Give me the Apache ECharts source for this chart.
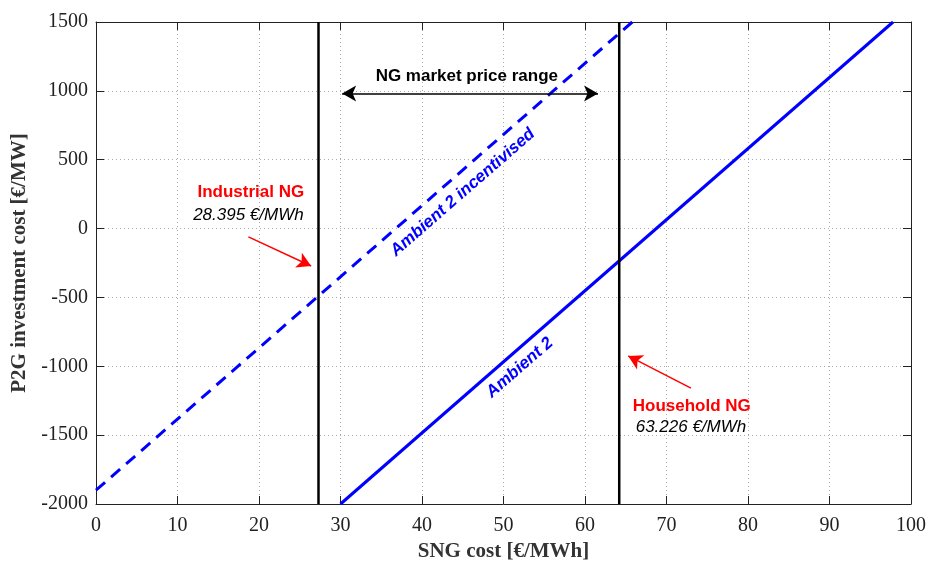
<!DOCTYPE html>
<html>
<head>
<meta charset="utf-8">
<script src="https://cdn.jsdelivr.net/npm/echarts@6/dist/echarts.min.js"></script>
<style>
  html, body { margin: 0; padding: 0; background: #fff; }
  #chart { width: 929px; height: 565px; }
</style>
</head>
<body>
<div id="chart"></div>
<script>
// line end points [SNG cost, P2G cost]
const ambient2 = [[30, -2000], [97.8, 1500]];
const ambient2Incentivised = [[0, -1900], [65.8, 1500]];
const industrialLine = [[27.3, -2000], [27.3, 1500]];
const householdLine = [[64.2, -2000], [64.2, 1500]];
const rangeArrow = [[30.2, 980], [61.6, 980]];
const industrialArrow = [[18.7, -60], [26.4, -272]];
const householdArrow = [[73.0, -1158], [65.3, -925]];

// text annotations [x, y, text]
const redLabels = [[19.0, 262, "Industrial NG"], [73.1, -1288, "Household NG"]];
const priceLabels = [[18.7, 99, "28.395 €/MWh"], [73.0, -1440, "63.226 €/MWh"]];
const rangeLabel = [[45.5, 1108, "NG market price range"]];
const lineLabels = [[45.0, 262, "Ambient 2 incentivised"], [52.0, -1010, "Ambient 2"]];

const serif = "Liberation Serif";
const sans = "Liberation Sans";

const chart = echarts.init(document.getElementById("chart"));

function arrowSeries(pts, color, both) {
  return {
    type: "line",
    data: [],
    silent: true,
    markLine: {
      silent: true,
      animation: false,
      symbol: both ? ["arrow", "arrow"] : ["none", "arrow"],
      symbolSize: [12, 14],
      label: { show: false },
      lineStyle: { color: color, width: 1.5, type: "solid" },
      data: [[{ coord: pts[0] }, { coord: pts[1] }]]
    }
  };
}

function textSeries(items, style) {
  return {
    type: "scatter",
    data: items,
    symbolSize: 0,
    silent: true,
    itemStyle: { opacity: 1 },
    label: Object.assign({
      show: true,
      position: "inside",
      textBorderWidth: 0,
      formatter: (p) => p.data[2]
    }, style)
  };
}

const frameAxis = {
  axisLine: { show: true, onZero: false, lineStyle: { color: "#222", width: 1 } },
  axisTick: { show: true, inside: true, length: 8, lineStyle: { color: "#222" } }
};

const option = {
  animation: false,
  grid: { left: 96, right: 18, top: 22, bottom: 61, containLabel: false, outerBoundsMode: "none" },
  xAxis: [
    Object.assign({
      type: "value", min: 0, max: 100, interval: 10,
      name: "SNG cost [€/MWh]", nameLocation: "middle", nameGap: 36,
      nameTextStyle: { fontFamily: serif, fontWeight: "bold", fontSize: 21, color: "#333" },
      axisLabel: { fontFamily: serif, fontSize: 20, color: "#222", margin: 12 },
      splitLine: { show: true, lineStyle: { color: "#aaa", type: [1, 3], width: 1 } }
    }, frameAxis),
    Object.assign({
      type: "value", min: 0, max: 100, interval: 10, position: "top",
      axisLabel: { show: false },
      splitLine: { show: false }
    }, frameAxis)
  ],
  yAxis: [
    Object.assign({
      type: "value", min: -2000, max: 1500, interval: 500,
      name: "P2G investment cost [€/MW]", nameLocation: "middle", nameGap: 65,
      nameTextStyle: { fontFamily: serif, fontWeight: "bold", fontSize: 21, color: "#333" },
      axisLabel: { fontFamily: serif, fontSize: 20, color: "#222", margin: 8, formatter: (v) => String(v) },
      splitLine: { show: true, lineStyle: { color: "#aaa", type: [1, 3], width: 1 } }
    }, frameAxis),
    Object.assign({
      type: "value", min: -2000, max: 1500, interval: 500, position: "right",
      axisLabel: { show: false },
      splitLine: { show: false }
    }, frameAxis)
  ],
  series: [
    {
      type: "line", data: ambient2, symbol: "none", silent: true,
      lineStyle: { color: "#0000ff", width: 3 }
    },
    {
      type: "line", data: ambient2Incentivised, symbol: "none", silent: true,
      lineStyle: { color: "#0000ff", width: 3, type: [12, 8] }
    },
    {
      type: "line", data: industrialLine, symbol: "none", silent: true,
      lineStyle: { color: "#000", width: 2.5 }
    },
    {
      type: "line", data: householdLine, symbol: "none", silent: true,
      lineStyle: { color: "#000", width: 2.5 }
    },
    arrowSeries(rangeArrow, "#000", true),
    arrowSeries(industrialArrow, "#ff0000", false),
    arrowSeries(householdArrow, "#ff0000", false),
    textSeries(redLabels, { fontFamily: sans, fontWeight: "bold", fontSize: 17, color: "#ff0000" }),
    textSeries(priceLabels, { fontFamily: sans, fontStyle: "italic", fontSize: 17, color: "#000" }),
    textSeries(rangeLabel, { fontFamily: sans, fontWeight: "bold", fontSize: 17, color: "#000" }),
    textSeries(lineLabels, { fontFamily: sans, fontWeight: "bold", fontStyle: "italic", fontSize: 17, color: "#0000ff", rotate: 41 })
  ]
};

chart.setOption(option);
</script>
</body>
</html>
